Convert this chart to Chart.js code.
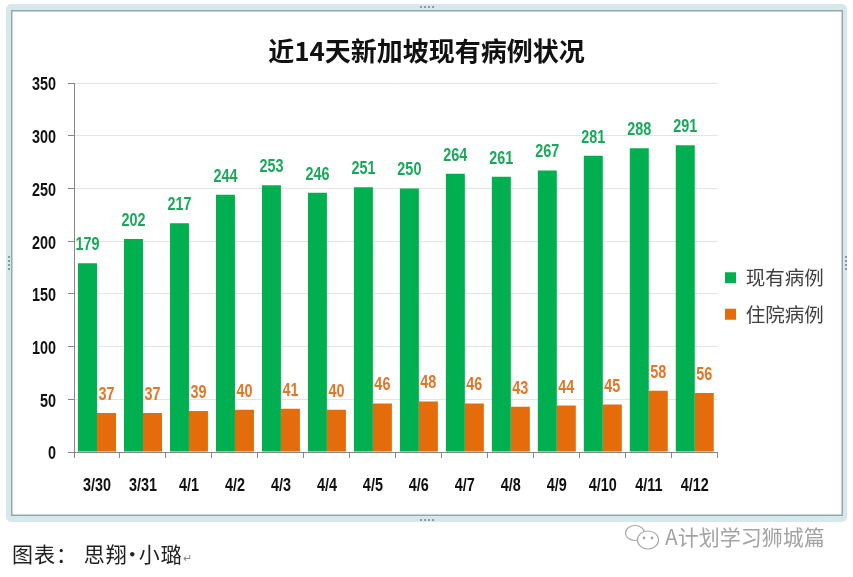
<!DOCTYPE html>
<html lang="zh">
<head>
<meta charset="utf-8">
<title>近14天新加坡现有病例状况</title>
<script src="https://cdn.jsdelivr.net/npm/chart.js@4/dist/chart.umd.min.js"></script>
<style>
  html, body { margin: 0; padding: 0; background: #fff; }
  body { position: relative; width: 853px; height: 577px; overflow: hidden; }
  #frame { position: absolute; left: 6px; top: 4px; width: 832px; height: 506px; border: solid #d6e8ec; border-width: 6px 4px 6px 5px; border-radius: 5px; box-shadow: inset 0 0 0 1.5px #93a8ab; }
  .grip { position: absolute; border: 0 dotted #8a9ea1; }
  .grip.h { width: 14px; height: 0; border-top-width: 2px; }
  .grip.v { width: 0; height: 14px; border-left-width: 2px; }
  #chartBox { position: absolute; left: 0; top: 0; width: 853px; height: 577px; }
  #caption { position: absolute; left: 12px; top: 538px; font: 21px "Noto Sans CJK SC", sans-serif; letter-spacing: 1px; line-height: 30px; color: #222; white-space: pre; }
  #caption .dot { margin-left: -6px; letter-spacing: -4px; }
  #caption .ret { font-size: 11px; color: #888; }
  #mark { position: absolute; left: 665px; top: 522px; font: 21px "Noto Sans CJK SC", sans-serif; line-height: 28px; color: #a3a3a3; white-space: nowrap; }
  #logo { position: absolute; left: 624px; top: 524px; }
</style>
</head>
<body>
<div id="frame"></div>
<div class="grip h" style="left:420px;top:6px"></div>
<div class="grip h" style="left:420px;top:519px"></div>
<div class="grip v" style="left:8px;top:256px"></div>
<div class="grip v" style="left:845px;top:256px"></div>
<div id="chartBox"><canvas id="casesChart"></canvas></div>
<div id="caption">图表： 思翔<span class="dot">•</span>小璐<span class="ret">↵</span></div>
<svg id="logo" width="38" height="30" viewBox="0 0 38 30" fill="none" stroke="#a8a8a8" stroke-width="1.2">
  <ellipse cx="11" cy="9" rx="9.5" ry="7.5"/>
  <ellipse cx="24" cy="16" rx="10.5" ry="9" fill="#fff"/>
  <circle cx="20" cy="14" r="0.8" fill="#a8a8a8"/>
  <circle cx="28" cy="14" r="0.8" fill="#a8a8a8"/>
</svg>
<div id="mark">A计划学习狮城篇</div>

<script>
// -------------------------
//      DATA
// -------------------------

const dates = ["3/30", "3/31", "4/1", "4/2", "4/3", "4/4", "4/5", "4/6", "4/7", "4/8", "4/9", "4/10", "4/11", "4/12"];
const currentCases = [179, 202, 217, 244, 253, 246, 251, 250, 264, 261, 267, 281, 288, 291];
const hospitalCases = [37, 37, 39, 40, 41, 40, 46, 48, 46, 43, 44, 45, 58, 56];
const seriesNames = ["现有病例", "住院病例"];
const chartTitle = "近14天新加坡现有病例状况";

const GREEN = "#00b050";
const ORANGE = "#e46c0a";
const CJK = '"Noto Sans CJK SC", sans-serif';
const SQUEEZE = 0.8; // no condensed font here, so numbers are squeezed sideways

function narrowText(c, text, x, y) {
    c.save();
    c.translate(x, y);
    c.scale(SQUEEZE, 1);
    c.fillText(text, 0, 0);
    c.restore();
}

// axis labels and value labels, all placed from the chart's scales and bars
const numberLabels = {
    id: "numberLabels",
    afterDatasetsDraw(chart) {
        const c = chart.ctx;
        const { x: xScale, y: yScale } = chart.scales;
        c.save();
        c.font = 'bold 18px "Liberation Sans", sans-serif';
        c.textBaseline = "middle";

        c.fillStyle = "#111";
        c.textAlign = "right";
        yScale.ticks.forEach((t, i) => {
            narrowText(c, t.label, 56, yScale.getPixelForTick(i) + 2.5);
        });
        c.textAlign = "center";
        xScale.ticks.forEach((t, i) => {
            narrowText(c, t.label, xScale.getPixelForTick(i), xScale.top + 34);
        });

        chart.data.datasets.forEach((ds, i) => {
            c.fillStyle = ds.labelColor;
            chart.getDatasetMeta(i).data.forEach((bar, j) => {
                narrowText(c, ds.data[j], bar.x, bar.y - 18);
            });
        });
        c.restore();
    }
};

// legend sits lower than the centre of the plot
const legendPlace = {
    id: "legendPlace",
    beforeDraw(chart) {
        chart.legend.left = 708;
        chart.legend.top = 251;
    }
};

new Chart(document.getElementById("casesChart"), {
    type: "bar",
    data: {
        labels: dates,
        datasets: [
            { label: seriesNames[0], data: currentCases, backgroundColor: GREEN, labelColor: "#1aa85a", categoryPercentage: 0.826, barPercentage: 1 },
            { label: seriesNames[1], data: hospitalCases, backgroundColor: ORANGE, labelColor: "#e4762a", categoryPercentage: 0.826, barPercentage: 1 }
        ]
    },
    options: {
        responsive: true,
        maintainAspectRatio: false,
        animation: false,
        layout: { padding: { left: 9.5, right: 9.5, top: 0, bottom: 0 } },
        plugins: {
            tooltip: { enabled: false },
            title: {
                display: true,
                text: chartTitle,
                color: "#111",
                font: { family: CJK, size: 26, weight: "bold" },
                padding: { top: 36, bottom: 15.8 }
            },
            legend: {
                display: true,
                position: "right",
                align: "start",
                labels: {
                    boxWidth: 11,
                    boxHeight: 11,
                    padding: 17,
                    color: "#404040",
                    font: { family: CJK, size: 19.5 }
                }
            }
        },
        scales: {
            x: {
                grid: { offset: true, drawOnChartArea: false, tickLength: 6, tickColor: "#868686" },
                border: { color: "#868686" },
                ticks: { display: false, autoSkip: false, maxRotation: 0 },
                afterFit(scale) { scale.height = 125; }
            },
            y: {
                min: 0,
                max: 350,
                grid: { color: "#e4e4e4", tickLength: 6, tickColor: "#868686" },
                border: { color: "#868686" },
                ticks: { display: false, stepSize: 50 },
                afterFit(scale) { scale.width = 64.5; }
            }
        }
    },
    plugins: [numberLabels, legendPlace]
});
</script>
</body>
</html>
